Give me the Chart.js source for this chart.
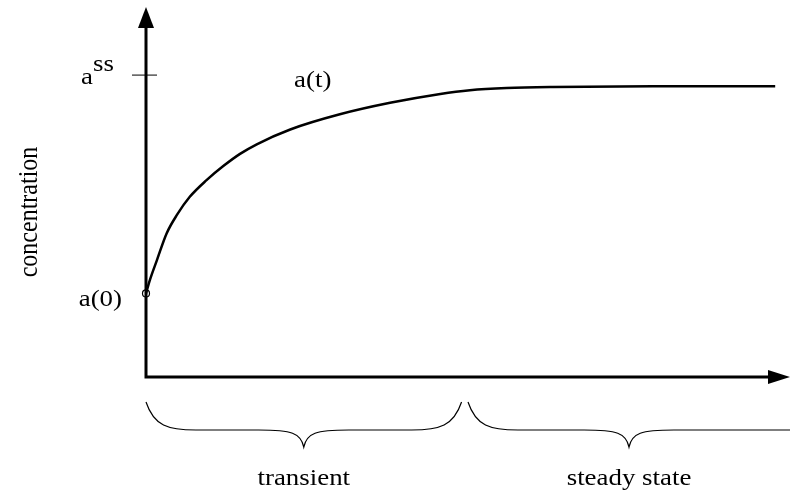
<!DOCTYPE html>
<html>
<head>
<meta charset="utf-8">
<script src="https://cdn.jsdelivr.net/npm/chart.js@4/dist/chart.umd.min.js"></script>
<style>
  body { margin: 0; background: #fff; }
  #wrap { width: 812px; height: 490px; }
</style>
</head>
<body>
<div id="wrap"><canvas id="conc" width="812" height="490"></canvas></div>
<script>
// time (0..100 = x-axis length) and concentration (0..100 = y-axis length)
const timeValues = [0, 0.6, 1.7, 3.2, 4.8, 6.8, 9.4, 12.0, 14.6, 17.2, 22.4, 30.1, 37.9, 45.7, 50.3, 56.0, 63.2, 78.7, 97.7];
const concValues = [22.6, 26.2, 31.6, 38.8, 43.8, 48.7, 53.2, 57.0, 60.3, 62.9, 66.9, 71.0, 74.1, 76.5, 77.5, 78.1, 78.4, 78.6, 78.6];
const steadyLevel = 81.6;
const phases = [
  { label: "transient", from: 0, to: 49 },
  { label: "steady state", from: 50, to: 100, openEnd: true },
];

const FONT = '24px "Liberation Serif", "Times New Roman", serif';
const STRETCH = 1.12;

function drawText(ctx, text, x, y, align) {
  ctx.save();
  ctx.translate(x, y);
  ctx.scale(STRETCH, 1);
  ctx.textAlign = align || "left";
  ctx.textBaseline = "alphabetic";
  ctx.fillText(text, 0, 0);
  ctx.restore();
}

function drawBrace(ctx, x1, x2, top, openEnd) {
  const mid = (x1 + x2) / 2;
  const flat = top + 28;
  const tip = top + 45;
  ctx.beginPath();
  ctx.moveTo(x1, top);
  ctx.bezierCurveTo(x1 + 8, flat - 4, x1 + 22, flat, x1 + 50, flat);
  ctx.lineTo(mid - 45, flat);
  ctx.bezierCurveTo(mid - 12, flat, mid - 3, flat + 3, mid, tip);
  ctx.bezierCurveTo(mid + 3, flat + 3, mid + 12, flat, mid + 45, flat);
  if (openEnd) {
    ctx.lineTo(x2, flat);
  } else {
    ctx.lineTo(x2 - 50, flat);
    ctx.bezierCurveTo(x2 - 22, flat, x2 - 8, flat - 4, x2, top);
  }
  ctx.stroke();
}

const sketchPlugin = {
  id: "sketch",
  beforeDatasetsDraw(chart) {
    const ctx = chart.ctx;
    const xs = chart.scales.x;
    const ys = chart.scales.y;
    const x0 = xs.getPixelForValue(0);
    const xEnd = xs.getPixelForValue(100);
    const y0 = ys.getPixelForValue(0);
    const yEnd = ys.getPixelForValue(100);

    ctx.save();
    ctx.strokeStyle = "#000";
    ctx.fillStyle = "#000";

    // axes with arrow heads
    ctx.lineWidth = 3;
    ctx.beginPath();
    ctx.moveTo(x0, y0 + 1.5);
    ctx.lineTo(x0, yEnd + 18);
    ctx.moveTo(x0 - 1.5, y0);
    ctx.lineTo(xEnd - 18, y0);
    ctx.stroke();

    ctx.beginPath();
    ctx.moveTo(x0, yEnd);
    ctx.lineTo(x0 - 8, yEnd + 21);
    ctx.lineTo(x0 + 8, yEnd + 21);
    ctx.closePath();
    ctx.fill();

    ctx.beginPath();
    ctx.moveTo(xEnd, y0);
    ctx.lineTo(xEnd - 22, y0 - 7);
    ctx.lineTo(xEnd - 22, y0 + 7);
    ctx.closePath();
    ctx.fill();
    ctx.restore();
  },
  afterDatasetsDraw(chart) {
    const ctx = chart.ctx;
    const xs = chart.scales.x;
    const ys = chart.scales.y;
    const x0 = xs.getPixelForValue(0);
    const y0 = ys.getPixelForValue(0);

    ctx.save();
    ctx.strokeStyle = "#000";
    ctx.fillStyle = "#000";

    // steady state tick
    const ySS = ys.getPixelForValue(steadyLevel);
    ctx.lineWidth = 1;
    ctx.beginPath();
    ctx.moveTo(x0 - 14, ySS);
    ctx.lineTo(x0 + 11, ySS);
    ctx.stroke();

    ctx.font = FONT;
    drawText(ctx, "a", x0 - 65, ySS + 9);
    drawText(ctx, "ss", x0 - 53, ySS - 4);

    // curve labels
    drawText(ctx, "a(t)", xs.getPixelForValue(23), ys.getPixelForValue(78.6) + 1, "left");
    const yStart = ys.getPixelForValue(concValues[0]);
    drawText(ctx, "a(0)", x0 - 24, yStart + 13, "right");

    // y-axis title
    ctx.save();
    ctx.translate(37, 212);
    ctx.rotate(-Math.PI / 2);
    ctx.scale(1, STRETCH);
    ctx.textAlign = "center";
    ctx.textBaseline = "alphabetic";
    ctx.fillText("concentration", 0, 0);
    ctx.restore();

    // phase braces
    ctx.lineWidth = 1.2;
    phases.forEach((phase) => {
      const a = xs.getPixelForValue(phase.from);
      const b = xs.getPixelForValue(phase.to);
      drawBrace(ctx, a, b, y0 + 25, phase.openEnd);
      drawText(ctx, phase.label, (a + b) / 2, y0 + 108, "center");
    });

    ctx.restore();
  },
};

new Chart(document.getElementById("conc"), {
  type: "line",
  data: {
    datasets: [
      {
        data: timeValues.map((t, i) => ({ x: t, y: concValues[i] })),
        borderColor: "#000",
        borderWidth: 2.5,
        pointRadius: 0,
        cubicInterpolationMode: "monotone",
        fill: false,
        clip: false,
      },
      {
        data: [{ x: timeValues[0], y: concValues[0] }],
        showLine: false,
        clip: false,
        pointRadius: 3.5,
        pointBorderWidth: 1.2,
        pointBorderColor: "#000",
        pointBackgroundColor: "rgba(255,255,255,0)",
      },
    ],
  },
  options: {
    responsive: false,
    animation: false,
    layout: { padding: { left: 146, right: 22, top: 7, bottom: 113 } },
    plugins: { legend: { display: false }, tooltip: { enabled: false } },
    scales: {
      x: { type: "linear", min: 0, max: 100, display: false },
      y: { type: "linear", min: 0, max: 100, display: false },
    },
  },
  plugins: [sketchPlugin],
});
</script>
</body>
</html>
